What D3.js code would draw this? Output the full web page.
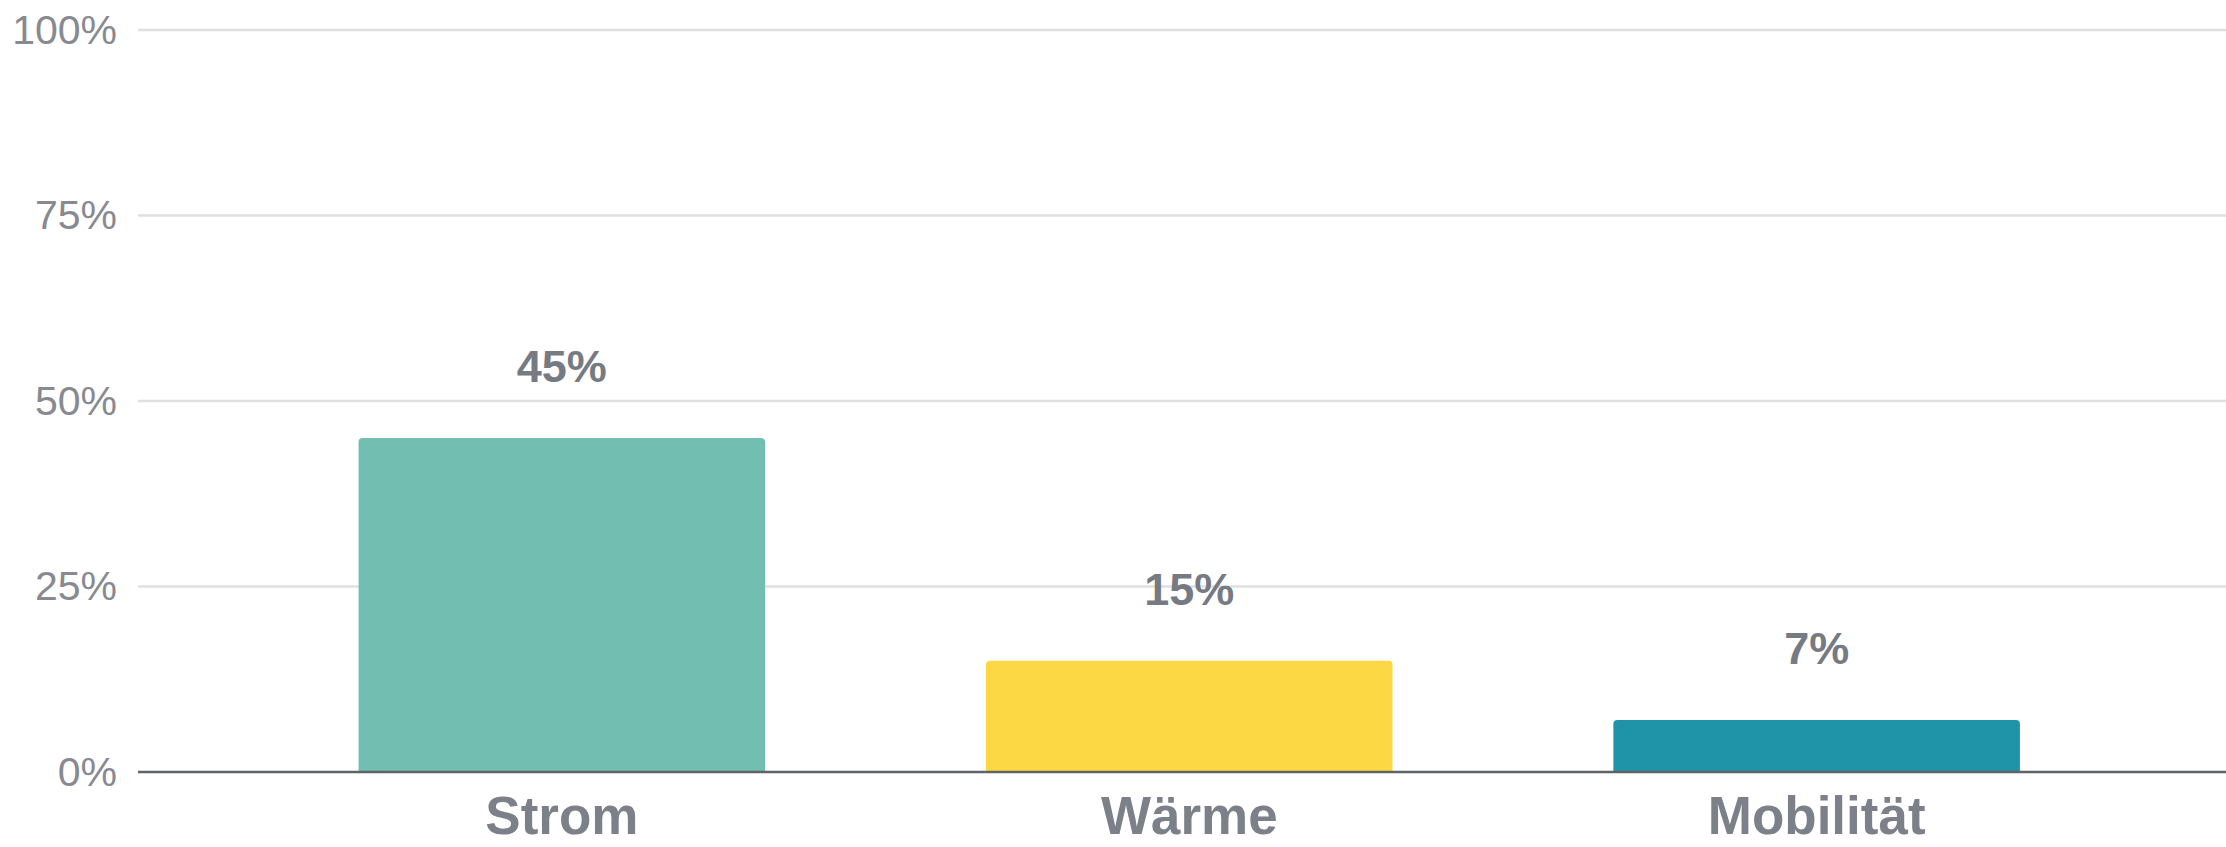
<!DOCTYPE html>
<html>
<head>
<meta charset="utf-8">
<script src="https://cdn.jsdelivr.net/npm/d3@7"></script>
<style>
  html, body { margin: 0; padding: 0; background: #ffffff; }
  svg { display: block; font-family: "Liberation Sans", Arial, Helvetica, sans-serif; }
</style>
</head>
<body>
<svg id="chart" width="2226" height="847"></svg>
<script>
const categories = ["Strom", "Wärme", "Mobilität"];
const values = [45, 15, 7];
const valueLabels = ["45%", "15%", "7%"];
const colors = ["#72bfb2", "#fdd845", "#1f93a8"];
const yTicks = [0, 25, 50, 75, 100];
const yTickLabels = ["0%", "25%", "50%", "75%", "100%"];

const W = 2226, H = 847;
const plotLeft = 138, plotRight = 2226, plotTop = 30, plotBottom = 772;

const svg = d3.select("#chart");

const x = d3.scaleBand()
  .domain(categories)
  .range([plotLeft, plotRight])
  .paddingInner(0.352)
  .paddingOuter(0.34)
  .align(0.517);

const y = d3.scaleLinear().domain([0, 100]).range([plotBottom, plotTop]);

// Gridlines
svg.append("g")
  .selectAll("line")
  .data(yTicks.filter(d => d !== 0))
  .join("line")
  .attr("x1", plotLeft).attr("x2", plotRight)
  .attr("y1", d => y(d)).attr("y2", d => y(d))
  .attr("stroke", "#e0e0e0")
  .attr("stroke-width", 2.5);

// Y axis labels
const yAxis = d3.axisLeft(y)
  .tickValues(yTicks)
  .tickFormat((d, i) => yTickLabels[i])
  .tickSize(0)
  .tickPadding(21);
const gy = svg.append("g").attr("transform", `translate(${plotLeft},0)`).call(yAxis);
gy.select(".domain").remove();
gy.selectAll("text")
  .attr("fill", "#878a91")
  .style("font-size", "41px")
  .style("font-family", "\"Liberation Sans\", Arial, sans-serif");

// Bars (rounded top corners)
function barPath(x0, w, yTop, yBot, r) {
  return `M${x0},${yBot}V${yTop + r}Q${x0},${yTop} ${x0 + r},${yTop}H${x0 + w - r}Q${x0 + w},${yTop} ${x0 + w},${yTop + r}V${yBot}Z`;
}
svg.append("g")
  .selectAll("path")
  .data(categories)
  .join("path")
  .attr("d", (d, i) => barPath(x(d), x.bandwidth(), y(values[i]), y(0), 4))
  .attr("fill", (d, i) => colors[i]);

// Baseline
svg.append("line")
  .attr("x1", plotLeft).attr("x2", plotRight)
  .attr("y1", y(0)).attr("y2", y(0))
  .attr("stroke", "#5f6266")
  .attr("stroke-width", 2.5);

// Value labels
svg.append("g")
  .selectAll("text")
  .data(categories)
  .join("text")
  .attr("x", d => x(d) + x.bandwidth() / 2)
  .attr("y", (d, i) => y(values[i]) - 56)
  .attr("text-anchor", "middle")
  .attr("fill", "#767a83")
  .style("font-size", "45px")
  .style("font-weight", "bold")
  .text((d, i) => valueLabels[i]);

// Category labels
const xAxis = d3.axisBottom(x).tickSize(0).tickPadding(0);
const gx = svg.append("g").attr("transform", `translate(0,${plotBottom})`).call(xAxis);
gx.select(".domain").remove();
gx.selectAll("text")
  .attr("dy", null)
  .attr("y", 62)
  .attr("fill", "#7c8089")
  .style("font-size", "53px")
  .style("font-weight", "bold")
  .style("font-family", "\"Liberation Sans\", Arial, sans-serif");
</script>
</body>
</html>
